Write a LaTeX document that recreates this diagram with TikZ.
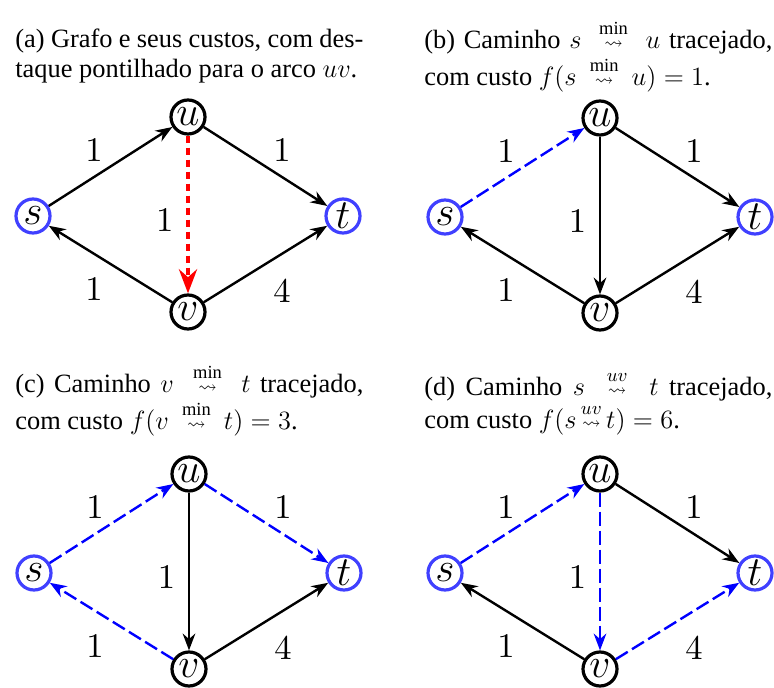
\RequirePackage{fix-cm}
\documentclass[tikz,border=0pt]{standalone}
\usepackage{amsmath,amssymb}
\usepackage{fontspec}
\setmainfont{Liberation Serif}
\usetikzlibrary{arrows.meta}

\font\costfont=cmr10 at 17.3pt
\newcommand{\squig}{\scriptstyle\rightsquigarrow\rule{0pt}{4.5pt}}
\newcommand{\minpath}{\mathrel{\:\overset{\min}{\squig}\:}}
\newcommand{\uvpath}{\mathrel{\:\overset{uv}{\squig}\:}}

\begin{document}
\begin{tikzpicture}[x=0.5pt, y=-0.5pt,
    vertex/.style={circle, draw, line width=1.6pt, minimum size=17pt, inner sep=0pt, font=\huge},
    terminal/.style={vertex, draw=blue!75},
    arc/.style={-{Stealth}, line width=1.2pt},
    patharc/.style={arc, blue, dash pattern=on 7pt off 2.5pt},
    dotarc/.style={-{Stealth}, red, line width=2pt, dash pattern=on 3.5pt off 2.5pt},
    cost/.style={font=\costfont},
    caption/.style={text width=174pt, align=justify, inner sep=0pt, anchor=base west,
        font=\fontsize{13.2}{14.6}\selectfont}]
    \useasboundingbox (0,0) rectangle (774,688);

    % ==================== (a) grafo e custos ====================
    \node[caption] (capA) at (15,48) {(a) Grafo e seus custos, com des-\linebreak taque pontilhado para o arco $uv$.};
    \begin{scope}[shift={(188,216)}]
        \node[terminal] (s) at (-155,0) {$s$};
        \node[terminal] (t) at (155,0) {$t$};
        \node[vertex] (u) at (0,-99) {$u$};
        \node[vertex] (v) at (0,96) {$v$};
        \draw[arc] (s) -- (u) node[cost, midway, above left, yshift=-1.5pt] {1};
        \draw[arc] (u) -- (t) node[cost, midway, above right, yshift=-1.5pt] {1};
        \draw[dotarc] (u) -- (v) node[cost, pos=0.54, left=3pt, black] {1};
        \draw[arc] (v) -- (s) node[cost, midway, below left, yshift=-3pt] {1};
        \draw[arc] (v) -- (t) node[cost, midway, below right, yshift=-4pt] {4};
    \end{scope}

    % ==================== (b) caminho s -> u ====================
    \node[caption] (capB) at (424,49) {(b) Caminho $s \minpath u$ tracejado,\linebreak com custo $f(s \minpath u) = 1$.};
    \begin{scope}[shift={(600,217)}]
        \node[terminal] (s) at (-155,0) {$s$};
        \node[terminal] (t) at (155,0) {$t$};
        \node[vertex] (u) at (0,-99) {$u$};
        \node[vertex] (v) at (0,96) {$v$};
        \draw[patharc] (s) -- (u) node[cost, midway, above left, yshift=-1.5pt, black] {1};
        \draw[arc] (u) -- (t) node[cost, midway, above right, yshift=-1.5pt] {1};
        \draw[arc] (u) -- (v) node[cost, pos=0.54, left=3pt] {1};
        \draw[arc] (v) -- (s) node[cost, midway, below left, yshift=-3pt] {1};
        \draw[arc] (v) -- (t) node[cost, midway, below right, yshift=-4pt] {4};
    \end{scope}

    % ==================== (c) caminho v -> t ====================
    \node[caption] (capC) at (15,393) {(c) Caminho $v \minpath t$ tracejado,\linebreak com custo $f(v \minpath t) = 3$.};
    \begin{scope}[shift={(189,573)}]
        \node[terminal] (s) at (-155,0) {$s$};
        \node[terminal] (t) at (155,0) {$t$};
        \node[vertex] (u) at (0,-99) {$u$};
        \node[vertex] (v) at (0,96) {$v$};
        \draw[patharc] (s) -- (u) node[cost, midway, above left, yshift=-1.5pt, black] {1};
        \draw[patharc] (u) -- (t) node[cost, midway, above right, yshift=-1.5pt, black] {1};
        \draw[arc] (u) -- (v) node[cost, pos=0.54, left=3pt] {1};
        \draw[patharc] (v) -- (s) node[cost, midway, below left, yshift=-3pt, black] {1};
        \draw[arc] (v) -- (t) node[cost, midway, below right, yshift=-4pt] {4};
    \end{scope}

    % ==================== (d) caminho s -> t por uv ====================
    \node[caption] (capD) at (424,396) {(d) Caminho $s \uvpath t$ tracejado,\linebreak com custo $f(s\,{\overset{uv}{\squig}}\,t) = 6$.};
    \begin{scope}[shift={(600,573)}]
        \node[terminal] (s) at (-155,0) {$s$};
        \node[terminal] (t) at (155,0) {$t$};
        \node[vertex] (u) at (0,-99) {$u$};
        \node[vertex] (v) at (0,96) {$v$};
        \draw[patharc] (s) -- (u) node[cost, midway, above left, yshift=-1.5pt, black] {1};
        \draw[arc] (u) -- (t) node[cost, midway, above right, yshift=-1.5pt] {1};
        \draw[patharc] (u) -- (v) node[cost, pos=0.54, left=3pt, black] {1};
        \draw[arc] (v) -- (s) node[cost, midway, below left, yshift=-3pt] {1};
        \draw[patharc] (v) -- (t) node[cost, midway, below right, yshift=-4pt, black] {4};
    \end{scope}

\end{tikzpicture}
\end{document}
